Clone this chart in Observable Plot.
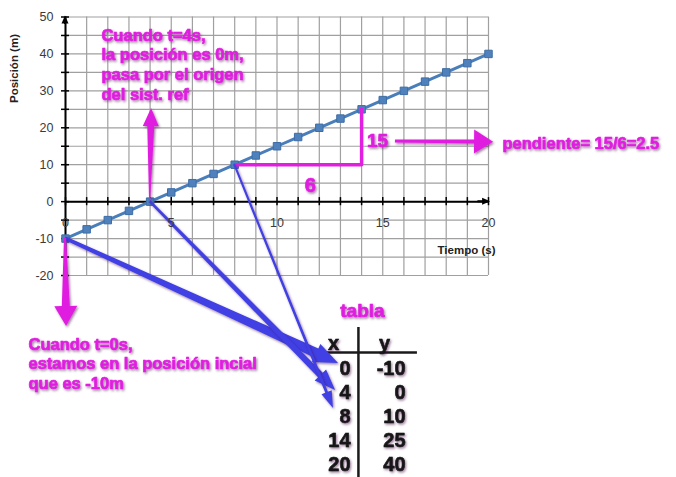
<!DOCTYPE html>
<html>
<head>
<meta charset="utf-8">
<script src="https://cdn.jsdelivr.net/npm/d3@7"></script>
<script src="https://cdn.jsdelivr.net/npm/@observablehq/plot@0.6"></script>
<style>
  html, body { margin: 0; padding: 0; background: #fff; }
  #chart { width: 676px; height: 477px; overflow: hidden; }
</style>
</head>
<body>
<div id="chart"></div>
<script>
// Movimiento rectilíneo uniforme: posición (m) frente a tiempo (s)
const tiempo   = [0, 1, 2, 3, 4, 5, 6, 7, 8, 9, 10, 11, 12, 13, 14, 15, 16, 17, 18, 19, 20];
const posicion = [-10, -7.5, -5, -2.5, 0, 2.5, 5, 7.5, 10, 12.5, 15, 17.5, 20, 22.5, 25, 27.5, 30, 32.5, 35, 37.5, 40];

// tabla de valores
const tablaX = [0, 4, 8, 14, 20];
const tablaY = [-10, 0, 10, 25, 40];

// etiquetas de los ejes
const ticksX = [0, 5, 10, 15, 20];
const ticksY = [-20, -10, 0, 10, 20, 30, 40, 50];

const notaOrigen  = ["Cuando t=4s,", "la posición es 0m,", "pasa por el origen", "del sist. ref"];
const notaInicial = ["Cuando t=0s,", "estamos en la posición incial", "que es -10m"];

const MAG  = "#e01fe0";
const AZUL = "#3f3fe4";
const INK  = "#151515";
const GRID = "#a0a0a0";
const FONT = "'Liberation Sans', Arial, sans-serif";

// triángulo de la pendiente entre dos filas de la tabla
const p1 = {x: tablaX[2], y: tablaY[2]};
const p2 = {x: tablaX[3], y: tablaY[3]};
const run  = p2.x - p1.x;
const rise = p2.y - p1.y;
const pendiente = rise / run;

const serie = tiempo.map((t, i) => ({t, p: posicion[i]}));
const bold = {fontWeight: "bold", fontFamily: FONT};
// trazo del mismo color para engrosar los rótulos
const rosa = {...bold, fill: MAG, stroke: MAG, strokeWidth: 0.7};
const tinta = {...bold, fill: INK, stroke: INK, strokeWidth: 0.6};

const plot = Plot.plot({
  width: 676,
  height: 477,
  marginLeft: 65,
  marginRight: 188,
  marginTop: 16.5,
  marginBottom: 202,
  x: {domain: [0, 20], axis: null},
  y: {domain: [-20, 50], axis: null},
  style: {background: "#fff", fontFamily: FONT, overflow: "visible"},
  marks: [
    // cuadrícula
    Plot.ruleX(d3.range(0, 21), {y1: -20, y2: 50, stroke: GRID, strokeWidth: 1.2}),
    Plot.ruleY(d3.range(-20, 51, 5), {x1: 0, x2: 20, stroke: GRID, strokeWidth: 1.2}),
    // ejes
    Plot.ruleY([0], {x1: 0, x2: 20, stroke: "#000", strokeWidth: 2}),
    Plot.ruleX([0], {y1: -20, y2: 50, stroke: "#000", strokeWidth: 2}),
    Plot.ruleX(d3.range(0, 21), {y1: -1.1, y2: 1.1, stroke: "#000", strokeWidth: 1.5}),
    Plot.ruleY(d3.range(-20, 51, 5), {x1: -0.19, x2: 0.19, stroke: "#000", strokeWidth: 1.5}),
    Plot.text(ticksX, {x: d => d, y: 0, dy: 21, text: d => `${d}`, fill: "#3a3a3a", fontSize: 12.5}),
    Plot.text(ticksY, {x: 0, y: d => d, dx: -12, textAnchor: "end", text: d => `${d}`, fill: "#3a3a3a", fontSize: 12.5}),
    Plot.text(["Tiempo (s)"], {x: 18.96, y: -13.23, fill: "#222", fontSize: 11.5, ...bold}),
    Plot.text(["Posición (m)"], {x: -2.41, y: 36.05, rotate: -90, fill: "#222", fontSize: 11.5, ...bold}),
    // serie
    Plot.line(serie, {x: "t", y: "p", stroke: "#4a7ebb", strokeWidth: 3}),
    Plot.dot(serie, {x: "t", y: "p", symbol: "square", r: 4.2, fill: "#4f81bd", stroke: "#3d6da5", strokeWidth: 1}),
    // pendiente
    Plot.line([p1, {x: p2.x, y: p1.y}, p2], {x: "x", y: "y", stroke: MAG, strokeWidth: 3.5}),
    Plot.text([rise], {x: 14.75, y: 16.56, text: d => `${d}`, fontSize: 19, ...rosa}),
    Plot.text([run], {x: 11.58, y: 4.37, text: d => `${d}`, fontSize: 20, ...rosa}),
    Plot.text([`pendiente= ${rise}/${run}=${pendiente}`], {x: 20.66, y: 15.75, textAnchor: "start", fontSize: 16.5, ...rosa}),
    // notas
    Plot.text([notaOrigen.join("\n")], {x: 1.70, y: 47.43, textAnchor: "start", lineAnchor: "top", lineHeight: 1.2, fontSize: 16.5, ...rosa}),
    Plot.text([notaInicial.join("\n")], {x: -1.75, y: -36.24, textAnchor: "start", lineAnchor: "top", lineHeight: 1.2, fontSize: 16.5, ...rosa}),
    // tabla
    Plot.text(["tabla"], {x: 14.04, y: -29.47, fontSize: 19, ...rosa}),
    Plot.text(["x", "y"], {x: [12.67, 15.08], y: -38.57, fontSize: 20, ...tinta}),
    Plot.ruleY([-40.86], {x1: 12.2, x2: 16.64, stroke: "#1a1a1a", strokeWidth: 2.5}),
    Plot.ruleX([13.85], {y1: -34.08, y2: -74.7, stroke: "#1a1a1a", strokeWidth: 2.5}),
    Plot.text(tablaX, {x: 13.48, y: (d, i) => -45.1 - 6.55 * i, textAnchor: "end", text: d => `${d}`, fontSize: 20, ...tinta}),
    Plot.text(tablaY, {x: 16.08, y: (d, i) => -45.1 - 6.55 * i, textAnchor: "end", text: d => `${d}`, fontSize: 20, ...tinta})
  ]
});

// flechas dibujadas con las escalas del gráfico
const scaleFn = s => s.apply ? v => s.apply(v)
  : v => s.range[0] + (v - s.domain[0]) * (s.range[1] - s.range[0]) / (s.domain[1] - s.domain[0]);
const sx = scaleFn(plot.scale("x"));
const sy = scaleFn(plot.scale("y"));

function flecha(a, b, w1, w2, headLen, headW) {
  const x1 = sx(a[0]), y1 = sy(a[1]), x2 = sx(b[0]), y2 = sy(b[1]);
  const L = Math.hypot(x2 - x1, y2 - y1);
  const ux = (x2 - x1) / L, uy = (y2 - y1) / L;
  const nx = -uy, ny = ux;
  const bx = x2 - ux * headLen, by = y2 - uy * headLen;
  const pts = [
    [x1 + nx * w1 / 2, y1 + ny * w1 / 2],
    [bx + nx * w2 / 2, by + ny * w2 / 2],
    [bx + nx * headW / 2, by + ny * headW / 2],
    [x2, y2],
    [bx - nx * headW / 2, by - ny * headW / 2],
    [bx - nx * w2 / 2, by - ny * w2 / 2],
    [x1 - nx * w1 / 2, y1 - ny * w1 / 2]
  ];
  return "M" + pts.map(p => p[0].toFixed(2) + "," + p[1].toFixed(2)).join("L") + "Z";
}

const svg = d3.select(plot);
const defs = svg.append("defs");
defs.append("filter").attr("id", "sombra").attr("x", "-20%").attr("y", "-20%").attr("width", "150%").attr("height", "160%")
  .append("feDropShadow").attr("dx", 1.2).attr("dy", 1.5).attr("stdDeviation", 0.9)
  .attr("flood-color", "#3a003a").attr("flood-opacity", 0.5);

const capa = svg.append("g").attr("aria-label", "flechas");
// puntas de los ejes
capa.append("path").attr("d", flecha([19.5, 0], [20.1, 0], 2, 2, 8, 7)).attr("fill", "#000");
capa.append("path").attr("d", flecha([0, 48], [0, 50.3], 2, 2, 8, 7)).attr("fill", "#000");

const flechas = [
  // del punto de la gráfica a la fila de la tabla
  {a: [tablaX[0], tablaY[0]], b: [12.91, -43.83], w1: 3.5, w2: 10, hl: 24, hw: 20, c: AZUL},
  {a: [tablaX[1], tablaY[1]], b: [12.77, -51.14], w1: 2.5, w2: 6.5, hl: 21, hw: 16, c: AZUL},
  {a: [tablaX[2], tablaY[2]], b: [12.67, -56.02], w1: 2, w2: 2.8, hl: 17, hw: 11, c: AZUL},
  // notas
  {a: [tablaX[1], tablaY[1]], b: [4.07, 25.22], w1: 1, w2: 7, hl: 18, hw: 16, c: MAG},
  {a: [tablaX[0], tablaY[0]], b: [0.05, -33.81], w1: 2, w2: 8, hl: 20, hw: 23, c: MAG},
  {a: [15.6, 16.3], b: [20.24, 16.1], w1: 3, w2: 4, hl: 19, hw: 24, c: MAG}
];
for (const f of flechas) {
  capa.append("path").attr("d", flecha(f.a, f.b, f.w1, f.w2, f.hl, f.hw))
    .attr("fill", f.c).attr("filter", "url(#sombra)");
}

// textos por encima de las flechas, con sombra en las notas y la tabla
svg.selectAll('g[aria-label="text"]').each(function () {
  const fill = this.getAttribute("fill");
  if (fill === MAG || fill === INK) this.setAttribute("filter", "url(#sombra)");
}).raise();

document.getElementById("chart").appendChild(plot);
</script>
</body>
</html>
